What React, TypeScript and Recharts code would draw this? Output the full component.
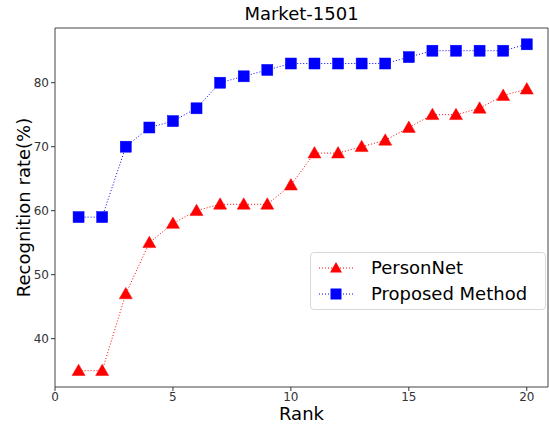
import React from 'react';
import { LineChart, Line, XAxis, YAxis, ReferenceArea } from 'recharts';

const ranks = [1, 2, 3, 4, 5, 6, 7, 8, 9, 10, 11, 12, 13, 14, 15, 16, 17, 18, 19, 20];
const personNet = [35, 35, 47, 55, 58, 60, 61, 61, 61, 64, 69, 69, 70, 71, 73, 75, 75, 76, 78, 79];
const proposed = [59, 59, 70, 73, 74, 76, 80, 81, 82, 83, 83, 83, 83, 83, 84, 85, 85, 85, 85, 86];
const xTicks = [0, 5, 10, 15, 20];
const yTicks = [40, 50, 60, 70, 80];

const data = ranks.map((r, i) => ({ rank: r, personNet: personNet[i], proposed: proposed[i] }));

const FONT = 'DejaVu Sans, sans-serif';

const Triangle = (props: any) => {
  const { cx, cy } = props;
  if (cx == null || cy == null) return null;
  const s = 6.5;
  return <polygon points={`${cx},${cy - s} ${cx - s},${cy + s * 0.75} ${cx + s},${cy + s * 0.75}`} fill="#ff0000" stroke="#ff0000" strokeWidth={0.5} />;
};

const Square = (props: any) => {
  const { cx, cy } = props;
  if (cx == null || cy == null) return null;
  const s = 5.5;
  return <rect x={cx - s} y={cy - s} width={2 * s} height={2 * s} fill="#0000ff" stroke="#0000ff" strokeWidth={0.5} />;
};

const XLabel = (props: any) => {
  const vb = props.viewBox || {};
  const cx = (vb.x ?? 55) + (vb.width ?? 493) / 2;
  return <text x={cx} y={420} textAnchor="middle" fontFamily={FONT} fontSize={18} fill="#000">Rank</text>;
};

const YLabel = (props: any) => {
  const vb = props.viewBox || {};
  const cy = (vb.y ?? 28) + (vb.height ?? 359) / 2;
  return (
    <text x={30} y={cy} transform={`rotate(-90, 30, ${cy})`} textAnchor="middle" fontFamily={FONT} fontSize={18} fill="#000">
      Recognition rate(%)
    </text>
  );
};

const LegendBox = () => (
  <div style={{
    position: 'absolute', left: 310, top: 252, width: 236, height: 58,
    border: '1px solid #d8d8d8', borderRadius: 4, background: 'rgba(255,255,255,0.9)',
    fontFamily: FONT, fontSize: 18, color: '#000', boxSizing: 'border-box',
  }}>
    <svg width={40} height={58} style={{ position: 'absolute', left: 6, top: 0 }}>
      <line x1={2} y1={15} x2={36} y2={15} stroke="#ff0000" strokeWidth={1} strokeDasharray="1 2" />
      <polygon points="19,9 13,19.5 25,19.5" fill="#ff0000" />
      <line x1={2} y1={41} x2={36} y2={41} stroke="#0000ff" strokeWidth={1} strokeDasharray="1 2" />
      <rect x={13.5} y={35.5} width={11} height={11} fill="#0000ff" />
    </svg>
    <div style={{ position: 'absolute', left: 60, top: 4, lineHeight: '22px' }}>PersonNet</div>
    <div style={{ position: 'absolute', left: 60, top: 30, lineHeight: '22px' }}>Proposed Method</div>
  </div>
);

export default function App() {
  return (
    <div style={{ position: 'absolute', left: 0, top: 0, width: 549, height: 425, background: '#fff' }}>
      <div style={{ position: 'absolute', left: 55, width: 493, top: 3, textAlign: 'center', fontFamily: FONT, fontSize: 18, color: '#000' }}>
        Market-1501
      </div>
      <LineChart width={549} height={425} data={data} margin={{ top: 28, right: 1, left: 0, bottom: 0 }}>
        <XAxis
          dataKey="rank" type="number" domain={[0, 20.9]} ticks={xTicks} allowDataOverflow
          height={38} tickSize={4} tickMargin={1} axisLine={false} tickLine={{ stroke: '#333' }}
          tick={{ fontFamily: FONT, fontSize: 12, fill: '#333' }}
          label={<XLabel />}
        />
        <YAxis
          type="number" domain={[32.45, 88.55]} ticks={yTicks} allowDataOverflow
          width={55} tickSize={4} tickMargin={2} axisLine={false} tickLine={{ stroke: '#333' }}
          tick={{ fontFamily: FONT, fontSize: 12, fill: '#333' }}
          label={<YLabel />}
        />
        <ReferenceArea x1={0} x2={20.9} y1={32.45} y2={88.55} fill="none" stroke="#444" strokeWidth={1} ifOverflow="visible" />
        <Line dataKey="personNet" stroke="#ff0000" strokeWidth={1} strokeDasharray="1 2" dot={<Triangle />} activeDot={false} isAnimationActive={false} />
        <Line dataKey="proposed" stroke="#0000ff" strokeWidth={1} strokeDasharray="1 2" dot={<Square />} activeDot={false} isAnimationActive={false} />
      </LineChart>
      <LegendBox />
    </div>
  );
}
